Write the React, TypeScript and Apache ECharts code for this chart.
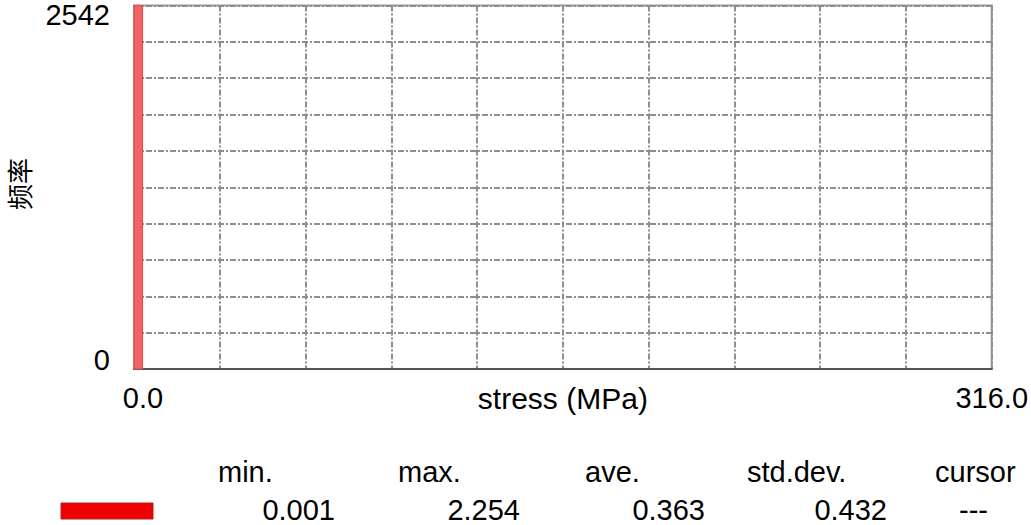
import React, { useEffect, useRef } from "react";
import * as echarts from "echarts";

// Histogram bins: [start, end, count]
const binStarts = [0];
const binEnds = [3.16];
const binCounts = [2542];

const xMin = 0;
const xMax = 316;
const yMax = 2542;
const xLabelTexts = ["0.0", "316.0"];
const yLabelTexts = ["0", "2542"];

const statNames = ["min.", "max.", "ave.", "std.dev.", "cursor"];
const statValues = ["0.001", "2.254", "0.363", "0.432", "---"];

const FONT = "'Liberation Sans', Arial, sans-serif";

export default function App() {
  const ref = useRef<HTMLDivElement>(null);

  useEffect(() => {
    if (!ref.current) return;
    const chart = echarts.init(ref.current, undefined, { renderer: "svg" });

    const binData = binStarts.map((s, i) => [s, binEnds[i], binCounts[i]]);

    const nameLefts = [218, 398, 585, 747, 935];
    const valueRights = [335, 520, 705, 887, 988];

    const graphics: any[] = [
      {
        type: "text",
        x: 18,
        y: 184,
        rotation: Math.PI / 2,
        style: {
          text: "频率",
          font: "26px 'Noto Sans CJK SC'",
          fill: "#000",
          textAlign: "center",
          textVerticalAlign: "middle",
        },
      },
      {
        type: "rect",
        shape: { x: 61, y: 503, width: 92, height: 16 },
        style: { fill: "#f00000", stroke: "#b02020", lineWidth: 1 },
      },
    ];
    statNames.forEach((n, i) => {
      graphics.push({
        type: "text",
        x: nameLefts[i],
        y: 472,
        style: {
          text: n,
          font: `29px ${FONT}`,
          fill: "#000",
          textAlign: "left",
          textVerticalAlign: "middle",
        },
      });
      graphics.push({
        type: "text",
        x: valueRights[i],
        y: 510,
        style: {
          text: statValues[i],
          font: `29px ${FONT}`,
          fill: "#000",
          textAlign: "right",
          textVerticalAlign: "middle",
        },
      });
    });

    const gridLine = { color: "#8e8e8e", width: 2, type: [6, 2, 2, 2] };

    chart.setOption({
      animation: false,
      backgroundColor: "#fff",
      grid: {
        left: 134,
        right: 37,
        top: 5,
        bottom: 156,
        show: true,
        borderColor: "#999",
        borderWidth: 2,
      },
      xAxis: {
        type: "value",
        min: xMin,
        max: xMax,
        interval: (xMax - xMin) / 10,
        name: "stress (MPa)",
        nameLocation: "middle",
        nameGap: 14,
        nameMoveOverlap: false,
        nameTextStyle: {
          fontFamily: FONT,
          fontSize: 30,
          color: "#000",
          verticalAlign: "top",
        },
        axisLine: { show: true, lineStyle: { color: "#555", width: 2 } },
        axisTick: { show: false },
        axisLabel: {
          showMinLabel: true,
          showMaxLabel: true,
          margin: 14,
          fontFamily: FONT,
          fontSize: 29,
          color: "#000",
          formatter: (v: number) => {
            if (Math.abs(v - xMin) < 1e-6) return "{a|" + xLabelTexts[0] + "}";
            if (Math.abs(v - xMax) < 1e-6) return "{b|" + xLabelTexts[1] + "}";
            return "";
          },
          rich: {
            a: { fontFamily: FONT, fontSize: 29, color: "#000", padding: [0, 0, 0, 18] },
            b: { fontFamily: FONT, fontSize: 29, color: "#000" },
          },
        },
        splitLine: { show: true, lineStyle: gridLine },
      },
      yAxis: {
        type: "value",
        min: 0,
        max: yMax,
        interval: yMax / 10,
        axisLine: { show: true, lineStyle: { color: "#999", width: 2 } },
        axisTick: { show: false },
        axisLabel: {
          showMinLabel: true,
          showMaxLabel: true,
          margin: 24,
          fontFamily: FONT,
          fontSize: 29,
          lineHeight: 18,
          color: "#000",
          verticalAlignMinLabel: "bottom",
          verticalAlignMaxLabel: "top",
          formatter: (v: number) => {
            if (v === 0) return yLabelTexts[0];
            if (Math.abs(v - yMax) < 1e-6) return yLabelTexts[1];
            return "";
          },
        },
        splitLine: { show: true, lineStyle: gridLine },
      },
      series: [
        {
          type: "custom",
          data: binData,
          encode: { x: [0, 1], y: 2 },
          renderItem: (params: any, api: any) => {
            const p0 = api.coord([api.value(0), api.value(2)]);
            const p1 = api.coord([api.value(1), 0]);
            return {
              type: "rect",
              shape: { x: p0[0], y: p0[1], width: p1[0] - p0[0], height: p1[1] - p0[1] },
              style: { fill: "#f06464", stroke: "#e04848", lineWidth: 1 },
            };
          },
          z: 5,
        },
      ],
      graphic: graphics,
    });

    return () => chart.dispose();
  }, []);

  return (
    <div
      ref={ref}
      style={{ position: "absolute", left: 0, top: 0, width: 1031, height: 525 }}
    />
  );
}
